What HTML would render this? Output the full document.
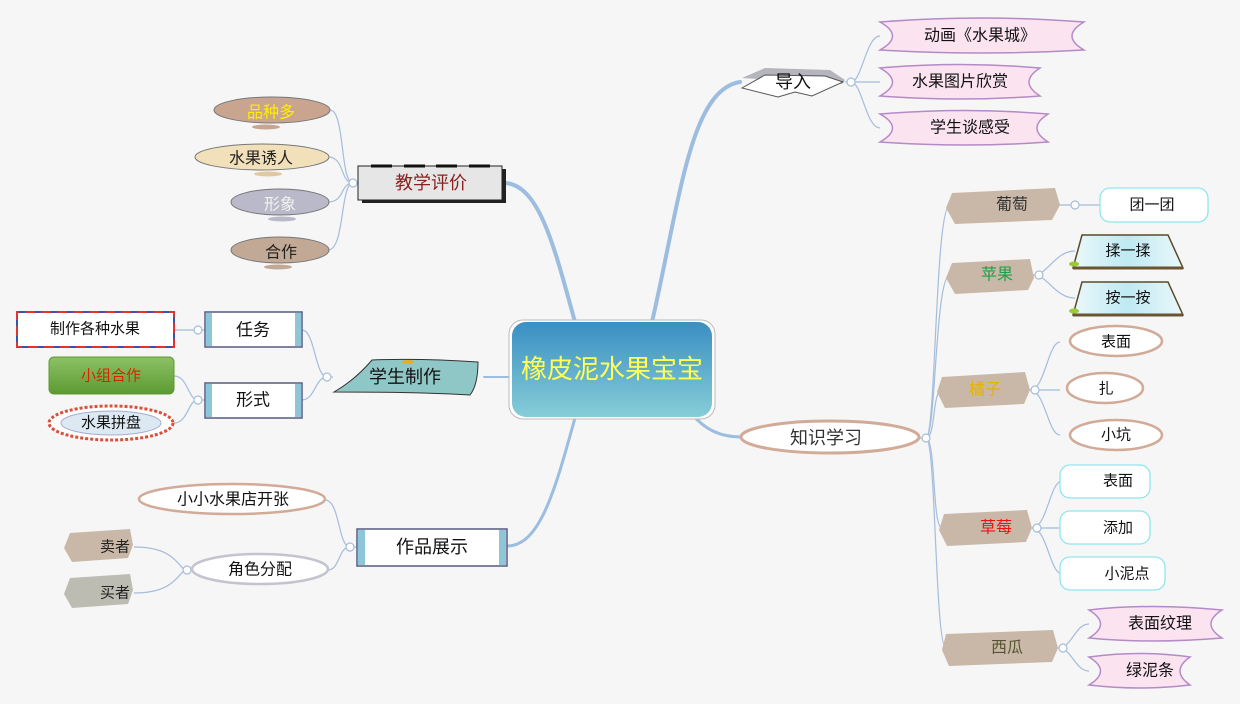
<!DOCTYPE html>
<html><head><meta charset="utf-8"><style>
html,body{margin:0;padding:0;background:#f6f6f6;}
svg{display:block}
text{font-family:"Liberation Sans","Noto Sans CJK SC",sans-serif;text-anchor:middle;dominant-baseline:central;}
</style></head><body>
<svg width="1240" height="704" viewBox="0 0 1240 704" xmlns="http://www.w3.org/2000/svg">
<defs>
<linearGradient id="cg" x1="0" y1="0" x2="0" y2="1"><stop offset="0" stop-color="#3a8fc2"/><stop offset="1" stop-color="#86cdd8"/></linearGradient>
<linearGradient id="gg" x1="0" y1="0" x2="0" y2="1"><stop offset="0" stop-color="#8cc265"/><stop offset="1" stop-color="#5d9a32"/></linearGradient>
<linearGradient id="bk" x1="0" y1="0" x2="1" y2="0"><stop offset="0" stop-color="#eaf8fb"/><stop offset="0.5" stop-color="#bfe9f3"/><stop offset="1" stop-color="#eaf8fb"/></linearGradient>
</defs>
<rect width="1240" height="704" fill="#f6f6f6"/>

<g fill="none" stroke="#9dbde0" stroke-linecap="round">
<path d="M652 322 C680 200 690 90 740 82" stroke-width="4"/>
<path d="M690 412 C705 430 720 437 742 437" stroke-width="3"/>
<path d="M575 322 C555 250 540 185 505 183" stroke-width="4"/>
<path d="M510 377 L484 377" stroke-width="2"/>
<path d="M575 418 C555 490 540 546 507 546" stroke-width="3"/>
</g>

<g fill="none" stroke="#a4bddb" stroke-width="1.2">
<path d="M845 82 L851 82"/>
<path d="M851 82 C862 82 866 36 880 36"/><path d="M851 82 L880 82"/><path d="M851 82 C862 82 866 128 880 128"/>
<path d="M918 438 L926 438"/>
<path d="M926 438 C936 438 935 205 950 205"/>
<path d="M926 438 C936 438 935 275 950 275"/>
<path d="M926 438 C936 438 932 390 942 390"/>
<path d="M926 438 C936 438 932 528 942 528"/>
<path d="M926 438 C936 438 935 648 946 648"/>
<path d="M1058 205 L1100 205"/>
<path d="M1033 275 C1048 275 1055 251 1075 251"/><path d="M1033 275 C1048 275 1055 298 1075 298"/>
<path d="M1030 390 C1045 390 1048 342 1060 342"/><path d="M1030 390 L1060 390"/><path d="M1030 390 C1045 390 1048 435 1060 435"/>
<path d="M1032 528 C1047 528 1050 481 1062 481"/><path d="M1032 528 L1062 528"/><path d="M1032 528 C1047 528 1050 574 1062 574"/>
<path d="M1058 648 C1072 648 1075 624 1089 624"/><path d="M1058 648 C1072 648 1075 671 1089 671"/>
<path d="M358 183 L353 183"/>
<path d="M353 183 C340 183 345 110 330 110"/><path d="M353 183 C340 183 345 157 328 157"/><path d="M353 183 C340 183 345 202 328 202"/><path d="M353 183 C340 183 345 250 328 250"/>
<path d="M333 377 L327 377"/>
<path d="M327 377 C315 377 315 330 302 330"/><path d="M327 377 C315 377 315 400 302 400"/>
<path d="M205 330 L174 330"/>
<path d="M205 400 L198 400"/>
<path d="M198 400 C188 400 188 376 174 376"/><path d="M198 400 C188 400 188 423 174 423"/>
<path d="M357 547 L350 547"/>
<path d="M350 547 C338 547 340 500 325 500"/><path d="M350 547 C338 547 340 570 328 570"/>
<path d="M192 570 L187 570"/>
<path d="M187 570 C178 570 178 547 134 547"/><path d="M187 570 C178 570 178 593 134 593"/>
</g>
<g fill="#fff" stroke="#a4bddb" stroke-width="1.2">
<circle cx="851" cy="82" r="4"/><circle cx="926" cy="438" r="4"/><circle cx="1075" cy="205" r="4"/>
<circle cx="1039" cy="275" r="4"/><circle cx="1035" cy="390" r="4"/><circle cx="1037" cy="528" r="4"/>
<circle cx="1063" cy="648" r="4"/><circle cx="353" cy="183" r="4"/><circle cx="327" cy="377" r="4"/>
<circle cx="198" cy="330" r="4"/><circle cx="198" cy="400" r="4"/><circle cx="350" cy="547" r="4"/><circle cx="187" cy="570" r="4"/>
</g>

<rect x="509" y="320" width="206" height="99" rx="14" fill="#fff" stroke="#bbb"/>
<rect x="512" y="322" width="200" height="95" rx="14" fill="url(#cg)"/>
<text x="612" y="369" font-size="26" fill="#ffff55">橡皮泥水果宝宝</text>

<path d="M742 78 L765 68 L830 70 L845 80 L842 84 Z" fill="#b5b5bd"/>
<path d="M742 88 L765 75 L825 76 L843 82 L812 96 L795 92 L778 97 Z" fill="#fff" stroke="#555"/>
<text x="793" y="82" font-size="18" fill="#111">导入</text>

<g fill="#fbe3ef" stroke="#b48ac8" stroke-width="1.5">
<path d="M880 22 Q980 14 1084 22 Q1060 36 1084 50 Q980 56 880 50 Q905 36 880 22Z"/>
<path d="M880 68 Q960 61 1040 68 Q1018 82 1040 96 Q960 102 880 96 Q905 82 880 68Z"/>
<path d="M880 114 Q965 107 1048 114 Q1026 128 1048 142 Q965 148 880 142 Q905 128 880 114Z"/>
<path d="M1089 610 Q1150 603 1222 610 Q1200 624 1222 638 Q1150 644 1089 638 Q1112 624 1089 610Z"/>
<path d="M1089 657 Q1140 650 1190 657 Q1170 671 1190 685 Q1140 691 1089 685 Q1112 671 1089 657Z"/>
</g>
<g font-size="16" fill="#111">
<text x="980" y="36">动画《水果城》</text>
<text x="960" y="82">水果图片欣赏</text>
<text x="970" y="128">学生谈感受</text>
<text x="1160" y="624">表面纹理</text>
<text x="1150" y="671">绿泥条</text>
</g>

<ellipse cx="830" cy="437" rx="89" ry="16" fill="#fff" stroke="#d2aa98" stroke-width="3"/>
<text x="826" y="438" font-size="18" fill="#333">知识学习</text>

<g fill="#c9b8a8">
<path d="M952 193 L1055 188 L1060 205 L1052 220 L955 224 L946 208Z"/>
<path d="M952 263 L1030 259 L1034 278 L1028 290 L955 294 L946 278Z"/>
<path d="M942 377 L1025 372 L1030 390 L1024 404 L945 408 L937 392Z"/>
<path d="M944 514 L1027 510 L1032 528 L1026 542 L947 546 L939 530Z"/>
<path d="M946 634 L1053 630 L1058 648 L1052 662 L949 666 L942 650Z"/>
<path d="M70 533 L130 529 L133 545 L128 558 L72 562 L64 548Z"/>
</g>
<path d="M70 578 L130 574 L133 590 L128 604 L72 608 L64 594Z" fill="#bcbcb2"/>
<text x="1012" y="205" font-size="16" fill="#333">葡萄</text>
<text x="997" y="275" font-size="16" fill="#1ea04a">苹果</text>
<text x="985" y="390" font-size="16" fill="#e8b000">橘子</text>
<text x="996" y="528" font-size="16" fill="#ee1111">草莓</text>
<text x="1007" y="648" font-size="16" fill="#555533">西瓜</text>
<text x="115" y="547" font-size="15" fill="#222">卖者</text>
<text x="115" y="593" font-size="15" fill="#222">买者</text>

<g fill="#fff" stroke="#8ee6ee" stroke-width="1.3">
<rect x="1100" y="188" width="108" height="34" rx="10"/>
<rect x="1060" y="465" width="90" height="33" rx="10"/>
<rect x="1060" y="511" width="90" height="33" rx="10"/>
<rect x="1060" y="557" width="105" height="33" rx="10"/>
</g>
<g font-size="15" fill="#111">
<text x="1152" y="205">团一团</text>
<text x="1118" y="481">表面</text>
<text x="1118" y="528">添加</text>
<text x="1127" y="574">小泥点</text>
</g>

<g>
<path d="M1082 235 L1168 235 L1183 268 L1073 268Z" fill="url(#bk)" stroke="#5a4a2a" stroke-width="1.5"/>
<path d="M1073 268 L1183 268" stroke="#6b5530" stroke-width="3"/>
<path d="M1082 282 L1168 282 L1183 315 L1073 315Z" fill="url(#bk)" stroke="#5a4a2a" stroke-width="1.5"/>
<path d="M1073 315 L1183 315" stroke="#6b5530" stroke-width="3"/>
<ellipse cx="1074" cy="264" rx="5" ry="2.5" fill="#9c3"/><ellipse cx="1074" cy="311" rx="5" ry="2.5" fill="#9c3"/>
</g>
<text x="1128" y="251" font-size="15" fill="#111">揉一揉</text>
<text x="1128" y="298" font-size="15" fill="#111">按一按</text>

<g fill="#fff" stroke="#d2aa98" stroke-width="2.5">
<ellipse cx="1116" cy="341" rx="46" ry="15"/>
<ellipse cx="1105" cy="388" rx="38" ry="15"/>
<ellipse cx="1116" cy="435" rx="46" ry="15"/>
<ellipse cx="232" cy="499" rx="93" ry="15"/>
</g>
<ellipse cx="260" cy="569" rx="68" ry="15" fill="#fff" stroke="#c4c4d0" stroke-width="2.5"/>
<g font-size="15" fill="#111">
<text x="1116" y="342">表面</text>
<text x="1106" y="389">扎</text>
<text x="1116" y="435">小坑</text>
<text x="233" y="500" font-size="16">小小水果店开张</text>
<text x="260" y="570" font-size="16">角色分配</text>
</g>

<rect x="362" y="169" width="144" height="34" fill="#222"/>
<rect x="358" y="166" width="144" height="34" fill="#e6e6e6" stroke="#222"/>
<g stroke="#111" stroke-width="3"><path d="M371 166 H392 M404 166 H425 M436 166 H457 M469 166 H490"/></g>
<text x="431" y="183" font-size="18" fill="#8b2020">教学评价</text>

<g>
<ellipse cx="272" cy="110" rx="58" ry="13" fill="#c9a590" stroke="#777" stroke-width="1"/>
<ellipse cx="262" cy="157" rx="67" ry="13" fill="#f1e0ba" stroke="#777" stroke-width="1"/>
<ellipse cx="280" cy="202" rx="49" ry="13" fill="#b9b9c9" stroke="#777" stroke-width="1"/>
<ellipse cx="280" cy="250" rx="49" ry="13" fill="#c2a996" stroke="#777" stroke-width="1"/>
<ellipse cx="266" cy="127" rx="14" ry="2.5" fill="#c9a590"/>
<ellipse cx="268" cy="174" rx="14" ry="2.5" fill="#e0c9a0"/>
<ellipse cx="282" cy="219" rx="14" ry="2.5" fill="#b9b9c9"/>
<ellipse cx="278" cy="267" rx="14" ry="2.5" fill="#c2a996"/>
</g>
<text x="271" y="113" font-size="16" fill="#ffee00">品种多</text>
<text x="261" y="159" font-size="16" fill="#222">水果诱人</text>
<text x="280" y="205" font-size="16" fill="#f2f2f2">形象</text>
<text x="281" y="253" font-size="16" fill="#222">合作</text>

<path d="M334 392 Q355 380 372 360 Q420 358 478 362 Q478 385 470 395 Q420 392 334 392Z" fill="#8fc7c6" stroke="#333"/>
<ellipse cx="408" cy="362" rx="6" ry="2" fill="#e0b020"/>
<text x="405" y="377" font-size="18" fill="#111">学生制作</text>

<g fill="#fff" stroke="#555a80" stroke-width="1.5">
<rect x="205" y="312" width="97" height="35"/>
<rect x="205" y="383" width="97" height="35"/>
<rect x="357" y="529" width="150" height="37"/>
</g>
<g fill="#8cc6d8">
<rect x="206" y="313" width="6" height="33"/><rect x="295" y="313" width="6" height="33"/>
<rect x="206" y="384" width="6" height="33"/><rect x="295" y="384" width="6" height="33"/>
<rect x="358" y="530" width="7" height="35"/><rect x="499" y="530" width="7" height="35"/>
</g>
<text x="253" y="330" font-size="17" fill="#111">任务</text>
<text x="253" y="400" font-size="17" fill="#111">形式</text>
<text x="432" y="547" font-size="18" fill="#111">作品展示</text>

<rect x="17" y="312" width="157" height="35" fill="#fff" stroke="#3355aa" stroke-width="2" stroke-dasharray="10 6"/>
<rect x="17" y="312" width="157" height="35" fill="none" stroke="#dd3333" stroke-width="2" stroke-dasharray="10 6" stroke-dashoffset="8"/>
<text x="95" y="329" font-size="15" fill="#111">制作各种水果</text>

<rect x="49" y="357" width="125" height="37" rx="5" fill="url(#gg)" stroke="#5d9a32"/>
<text x="111" y="376" font-size="15" fill="#dd2200">小组合作</text>

<ellipse cx="111" cy="423" rx="62" ry="17" fill="#fff" stroke="#d9503a" stroke-width="3" stroke-dasharray="3 2"/>
<ellipse cx="111" cy="423" rx="50" ry="12" fill="#dce9f3" stroke="#aac" stroke-width="1"/>
<text x="111" y="423" font-size="15" fill="#111">水果拼盘</text>
</svg>
</body></html>
